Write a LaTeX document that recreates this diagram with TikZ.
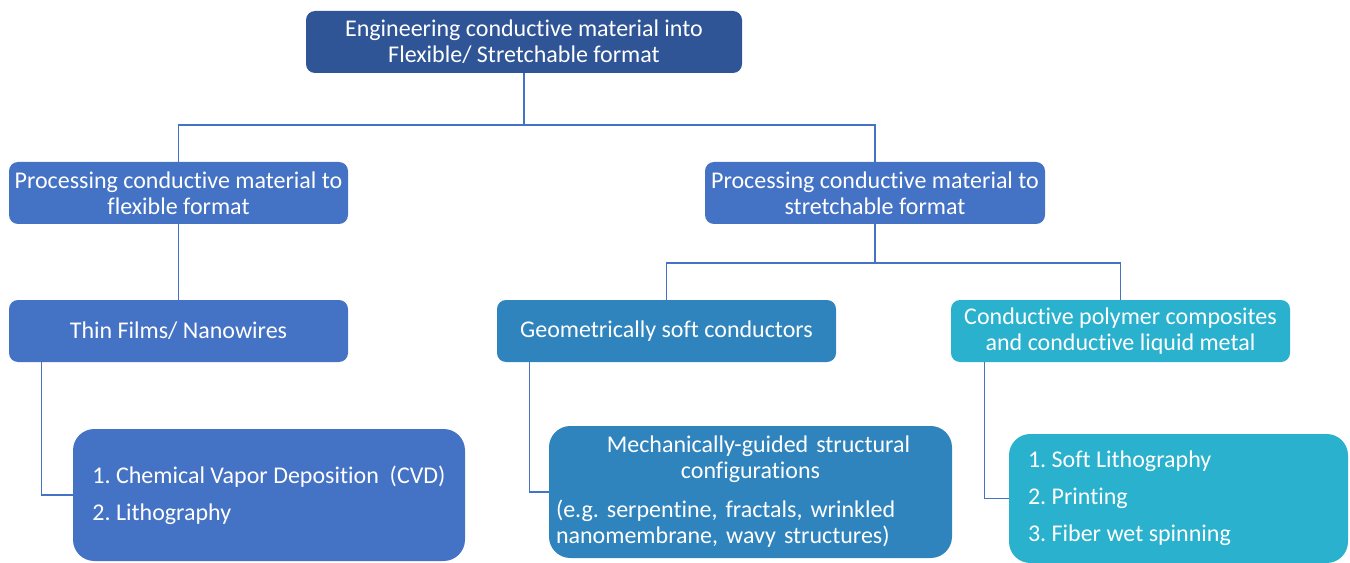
\documentclass[tikz,border=0pt]{standalone}
\usepackage{fontspec}
\setmainfont{Carlito}[Ligatures={NoCommon,NoRequired,NoContextual,NoRare}]
\frenchspacing
\definecolor{rootblue}{RGB}{47,85,151}
\definecolor{midblue}{RGB}{68,114,196}
\definecolor{geoblue}{RGB}{48,132,189}
\definecolor{tealblue}{RGB}{41,177,205}
\definecolor{linkblue}{RGB}{68,114,196}

\begin{document}
\begin{tikzpicture}[x=0.75pt,y=0.75pt,yscale=-1,xscale=1,
  box/.style={rectangle,rounded corners=6.75pt,fill=#1,text=white,align=center,minimum width=254.25pt,minimum height=46.5pt,inner sep=2pt,font=\fontsize{18}{19.5}\selectfont},
  bigbox/.style={rectangle,rounded corners=16pt,fill=#1,text=white,minimum height=99pt,font=\fontsize{18}{27.75}\selectfont},
  link/.style={draw=linkblue,line width=1.1pt}]
%set diagram size: 1350 x 563
\path[use as bounding box] (0,0) rectangle (1350,563);

%Shape: Rounded Rect (top)
\node[box=rootblue,minimum width=327pt] (root) at (524,42) {Engineering conductive material into\\Flexible/ Stretchable format};
%Shape: Rounded Rect (level 1)
\node[box=midblue] (flex) at (178.5,193) {Processing conductive material to\\flexible format};
\node[box=midblue,minimum width=255pt] (strch) at (875,193) {Processing conductive material to\\stretchable format};
%Shape: Rounded Rect (level 2)
\node[box=midblue] (thin) at (178.5,331) {Thin Films/ Nanowires};
\node[box=geoblue] (geo) at (666.5,331) {Geometrically soft conductors};
\node[box=tealblue] (cpc) at (1120.5,331) {Conductive polymer composites\\and conductive liquid metal};
%Shape: Rounded Rect (level 3)
\node[bigbox=midblue,align=left,minimum width=294pt] (cvd) at (269,495) {1. Chemical Vapor Deposition\ \ (CVD)\\2. Lithography};
\node[bigbox=geoblue,minimum width=302.25pt,text width=291.75pt,inner xsep=5.25pt,font=\fontsize{18}{19.5}\selectfont] (mech) at (750.5,492) {{\centering\hspace*{12pt}Mechanically-guided structural\\configurations\par}\vspace{9.75pt}{\raggedright(e.g. serpentine, fractals, wrinkled\\nanomembrane, wavy structures)\par}};
\node[bigbox=tealblue,minimum width=254.25pt,minimum height=96.75pt,text width=225.75pt,inner xsep=14.25pt,align=flush left] (soft) at (1178.5,498.5) {1. Soft Lithography\\2. Printing\\3. Fiber wet spinning};

%Straight Lines
\coordinate (topbus) at (524,125);
\draw[link] (root.south) -- (topbus);
\draw[link] (flex.north) |- (topbus) -| (strch.north);
\draw[link] (flex.south) -- (thin.north);
\coordinate (rightbus) at (875,263);
\draw[link] (strch.south) -- (rightbus);
\draw[link] (geo.north) |- (rightbus) -| (cpc.north);
%Elbow Lines
\draw[link] ([xshift=24.75pt]thin.south west) |- (cvd.west);
\draw[link] ([xshift=24.75pt]geo.south west) |- (mech.west);
\draw[link] ([xshift=25.5pt]cpc.south west) |- (soft.west);

\end{tikzpicture}
\end{document}
